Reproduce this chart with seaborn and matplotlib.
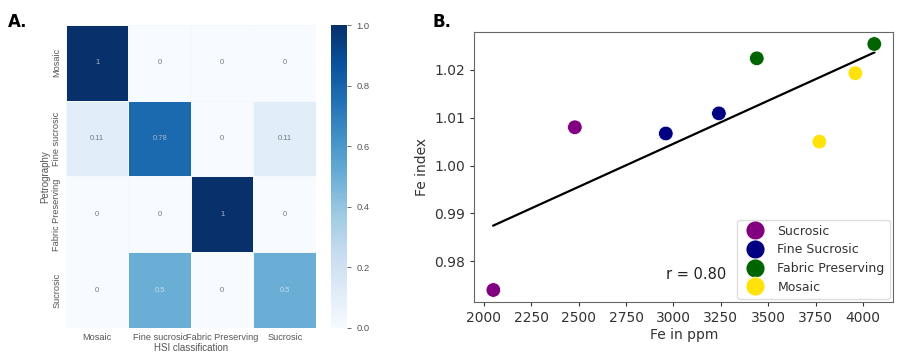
import numpy as np
import pandas as pd
import matplotlib
matplotlib.use('Agg')
import matplotlib.pyplot as plt
import seaborn as sns

# Panel A : matrice de confusion
classes = ['Mosaic', 'Fine sucrosic', 'Fabric Preserving', 'Sucrosic']
row_mosaic = [1, 0, 0, 0]
row_fine = [0.11, 0.78, 0, 0.11]
row_fabric = [0, 0, 1, 0]
row_sucrosic = [0, 0.5, 0, 0.5]

# Panel B : Fe index vs Fe en ppm
groups = ['Sucrosic', 'Sucrosic', 'Fine Sucrosic', 'Fine Sucrosic',
          'Fabric Preserving', 'Fabric Preserving', 'Mosaic', 'Mosaic']
fe_ppm = [2050, 2480, 2960, 3240, 3440, 4060, 3770, 3960]
fe_index = [0.974, 1.008, 1.0067, 1.0109, 1.0224, 1.0254, 1.005, 1.0193]
group_order = ['Sucrosic', 'Fine Sucrosic', 'Fabric Preserving', 'Mosaic']
group_colors = ['purple', 'navy', 'darkgreen', '#ffe20a']

cm_df = pd.DataFrame([row_mosaic, row_fine, row_fabric, row_sucrosic],
                     index=classes, columns=classes)
pts = pd.DataFrame({'group': groups, 'ppm': fe_ppm, 'idx': fe_index})

fig = plt.figure(figsize=(9, 3.58), dpi=100)
ax1 = fig.add_axes([0.0733, 0.084, 0.2778, 0.846])
cax = fig.add_axes([0.368, 0.084, 0.018, 0.846])
ax2 = fig.add_axes([0.527, 0.1556, 0.4656, 0.7559])

grey = '#555555'
sans = ['Liberation Sans', 'DejaVu Sans']

sns.heatmap(cm_df, ax=ax1, cbar_ax=cax, cmap='Blues', vmin=0, vmax=1,
            annot=True, annot_kws={'fontsize': 5.5, 'family': sans},
            linewidths=0.6, linecolor='#f4f8fc')
ax1.tick_params(length=0, labelsize=6.6, labelcolor=grey)
for lab in ax1.get_xticklabels() + ax1.get_yticklabels():
    lab.set_family(sans)
ax1.set_xlabel('HSI classification', fontsize=7, color=grey, family=sans, labelpad=1)
ax1.set_ylabel('Petrography', fontsize=7, color=grey, family=sans, labelpad=1)
plt.setp(ax1.get_yticklabels(), rotation=90, va='center')
plt.setp(ax1.get_xticklabels(), rotation=0)
for t in ax1.texts:
    v = float(t.get_text())
    if v < 0.3:
        t.set_color('#777777')
    elif v < 0.6:
        t.set_color('#c8dcee')
    else:
        t.set_color('#aab8d0')
cax.set_yticks([0, 0.2, 0.4, 0.6, 0.8, 1.0])
cax.set_yticklabels(['0.0', '0.2', '0.4', '0.6', '0.8', '1.0'])
cax.tick_params(labelsize=6.8, labelcolor=grey, color=grey, length=3, width=0.6)
for lab in cax.get_yticklabels():
    lab.set_family(sans)
for s in cax.spines.values():
    s.set_visible(False)

# Panel B
sns.scatterplot(data=pts, x='ppm', y='idx', hue='group', hue_order=group_order,
                palette=group_colors, s=110, edgecolor='white', linewidth=0.5,
                ax=ax2, zorder=3)
coef = np.polyfit(fe_ppm, fe_index, 1)
xl = np.array([min(fe_ppm), max(fe_ppm)])
ax2.plot(xl, np.polyval(coef, xl), color='black', lw=1.6, zorder=2)
r = np.corrcoef(fe_ppm, fe_index)[0, 1]
ax2.text(2960, 0.9773, f'r = {r:.2f}', fontsize=10.5, color='#222222', va='center')
ax2.set_xticks([2000, 2250, 2500, 2750, 3000, 3250, 3500, 3750, 4000])
ax2.set_yticks([0.98, 0.99, 1.00, 1.01, 1.02])
ax2.set_yticklabels(['0.98', '0.99', '1.00', '1.01', '1.02'])
ax2.tick_params(labelsize=10, labelcolor='#333333', color='#333333', length=3)
ax2.set_xlabel('Fe in ppm', fontsize=10, color='#333333', labelpad=2)
ax2.set_ylabel('Fe index', fontsize=10, color='#333333')
for s in ax2.spines.values():
    s.set_color('#666666')
leg = ax2.legend(loc='lower right', fontsize=9, markerscale=1.3,
                 handletextpad=0.8, borderpad=0.4, labelspacing=0.45,
                 framealpha=1, edgecolor='#dddddd', title=None,
                 borderaxespad=0.3)
for t in leg.get_texts():
    t.set_color('#333333')

fig.text(0.009, 0.965, 'A.', fontsize=12, fontweight='bold', va='top')
fig.text(0.48, 0.965, 'B.', fontsize=12, fontweight='bold', va='top')

fig.savefig('out.png', dpi=100)
